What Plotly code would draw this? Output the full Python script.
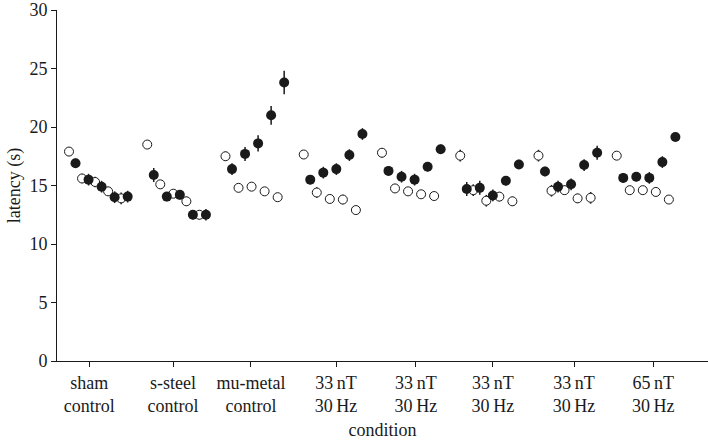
import plotly.graph_objs as go

# condition labels on the x axis
conditions = [
    "sham<br>control", "s-steel<br>control", "mu-metal<br>control",
    "33\u2009nT<br>30\u2009Hz", "33\u2009nT<br>30\u2009Hz", "33\u2009nT<br>30\u2009Hz",
    "33\u2009nT<br>30\u2009Hz", "65\u2009nT<br>30\u2009Hz",
]

# mean latency (s) of the open-circle trials, five per condition
open_mean = [
    [17.9, 15.6, 15.3, 14.5, 13.9],
    [18.5, 15.1, 14.3, 13.65, 12.5],
    [17.5, 14.8, 14.9, 14.5, 14.0],
    [17.65, 14.4, 13.85, 13.8, 12.9],
    [17.8, 14.75, 14.5, 14.25, 14.1],
    [17.55, 14.6, 13.7, 14.05, 13.65],
    [17.55, 14.55, 14.6, 13.9, 13.95],
    [17.55, 14.6, 14.6, 14.45, 13.8],
]
open_err = [
    [0.35, 0.4, 0.45, 0.4, 0.5],
    [0.3, 0.3, 0.3, 0.4, 0.4],
    [0.4, 0.3, 0.3, 0.3, 0.3],
    [0.3, 0.45, 0.3, 0.4, 0.3],
    [0.4, 0.3, 0.3, 0.3, 0.3],
    [0.5, 0.5, 0.5, 0.4, 0.4],
    [0.5, 0.5, 0.4, 0.4, 0.5],
    [0.3, 0.3, 0.3, 0.4, 0.3],
]

# mean latency (s) of the filled-circle trials
filled_mean = [
    [16.9, 15.5, 14.9, 14.0, 14.05],
    [15.9, 14.05, 14.2, 12.5, 12.5],
    [16.4, 17.7, 18.6, 21.0, 23.8],
    [15.5, 16.1, 16.4, 17.6, 19.4],
    [16.25, 15.75, 15.5, 16.6, 18.1],
    [14.7, 14.8, 14.15, 15.4, 16.8],
    [16.2, 14.9, 15.1, 16.75, 17.8],
    [15.65, 15.75, 15.65, 17.0, 19.15],
]
filled_err = [
    [0.4, 0.5, 0.5, 0.5, 0.5],
    [0.6, 0.4, 0.4, 0.4, 0.5],
    [0.5, 0.6, 0.7, 0.8, 1.0],
    [0.4, 0.5, 0.5, 0.5, 0.5],
    [0.4, 0.5, 0.5, 0.4, 0.4],
    [0.6, 0.6, 0.5, 0.4, 0.4],
    [0.4, 0.5, 0.5, 0.5, 0.6],
    [0.4, 0.4, 0.5, 0.5, 0.3],
]

y_ticks = [0, 5, 10, 15, 20, 25, 30]

GROUP_STEP = 12  # 10 points per condition plus a gap
tick_pos = [3.1, 15.95, 27.9, 40.95, 53.2, 65.0, 77.45, 89.6]

FONT = "Liberation Serif"
INK = "#1a1a1a"


def flatten(groups, offset):
    xs, ys = [], []
    for g, vals in enumerate(groups):
        for i, v in enumerate(vals):
            xs.append(g * GROUP_STEP + 2 * i + offset)
            ys.append(v)
    return xs, ys


ox, oy = flatten(open_mean, 0)
_, oe = flatten(open_err, 0)
fx, fy = flatten(filled_mean, 1)
_, fe = flatten(filled_err, 1)

fig = go.Figure()
fig.add_trace(go.Scatter(
    x=ox, y=oy, mode="markers",
    error_y=dict(type="data", array=oe, width=0, thickness=1.5, color=INK),
    marker=dict(symbol="circle", size=9, color="white", line=dict(color=INK, width=1)),
    showlegend=False,
))
fig.add_trace(go.Scatter(
    x=fx, y=fy, mode="markers",
    error_y=dict(type="data", array=fe, width=0, thickness=1.5, color=INK),
    marker=dict(symbol="circle", size=10, color=INK, line=dict(color=INK, width=0)),
    showlegend=False,
))

fig.update_layout(
    width=708, height=441,
    margin=dict(l=57, r=0, t=10, b=80),
    plot_bgcolor="white",
    paper_bgcolor="white",
    font=dict(family=FONT, size=18, color=INK),
    xaxis=dict(
        range=[-1.84, 98.0],
        tickvals=tick_pos, ticktext=conditions,
        ticks="outside", ticklen=5, tickwidth=1, tickcolor=INK,
        showline=True, linecolor=INK, linewidth=1,
        showgrid=False, zeroline=False, automargin=False,
        tickfont=dict(size=18),
        title=dict(text="condition", font=dict(size=18), standoff=8),
    ),
    yaxis=dict(
        range=[0, 30],
        tickvals=y_ticks,
        ticks="outside", ticklen=5, tickwidth=1, tickcolor=INK,
        showline=True, linecolor=INK, linewidth=1,
        showgrid=False, zeroline=False, automargin=False,
        tickfont=dict(size=18),
        title=dict(text="latency (s)", font=dict(size=18), standoff=4),
    ),
)

# the page body has a default 8px margin; drop it so the figure sits at the corner
fig.write_html(
    "out.html",
    config={"displayModeBar": False},
    post_script="document.body.style.margin='0';",
)
